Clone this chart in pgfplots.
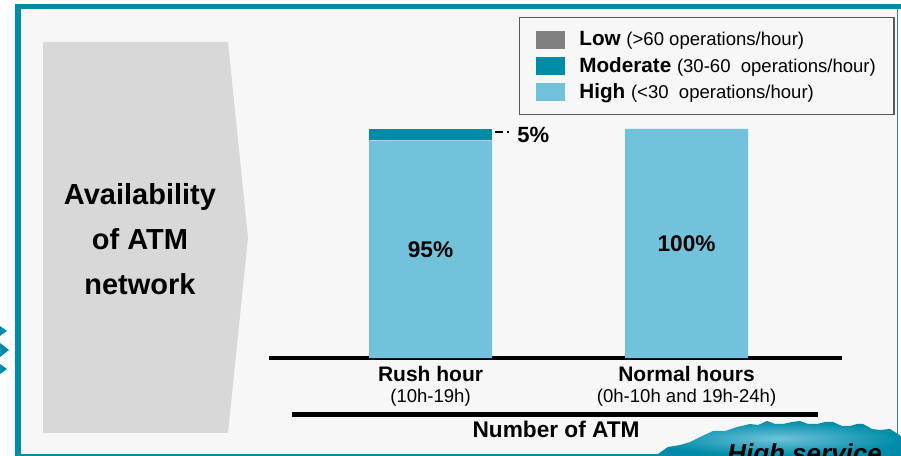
\documentclass[border=0pt]{standalone}
\usepackage{fontspec}
\setmainfont{Liberation Sans}
\usepackage{pgfplots}
\pgfplotsset{compat=1.18}
\definecolor{atmteal}{RGB}{0,140,168}
\definecolor{atmlight}{RGB}{114,194,219}
\definecolor{atmgray}{RGB}{128,128,128}
\definecolor{bgc}{RGB}{247,247,247}
\definecolor{chev}{RGB}{216,216,216}
\definecolor{burstin}{RGB}{110,195,218}
\begin{document}
\begin{tikzpicture}[x=0.75pt,y=0.75pt]
\useasboundingbox (0,0) rectangle (901,-456);
\begin{scope}
\clip (0,0) rectangle (901,-456);
\fill[white] (0,0) rectangle (901,-456);
\fill[bgc] (20,-9) rectangle (897,-454);
\fill[atmteal] (15,-4) rectangle (901,-9.5);
\fill[atmteal] (15,-4) rectangle (20.5,-456);
\draw[atmteal!60!gray, line width=1.1pt] (897.5,-9) -- (897.5,-456);
\draw[atmteal, line width=1.1pt] (15,-455) -- (898,-455);
% left arrows
\fill[atmteal] (0,-326) -- (7,-331) -- (0,-336) -- cycle;
\fill[atmteal] (0,-343) -- (9,-350) -- (0,-357) -- cycle;
\fill[atmteal] (0,-364) -- (7,-369) -- (0,-374) -- cycle;
% chevron
\fill[chev] (43,-42) -- (228,-42) -- (248,-238) -- (228,-433) -- (43,-433) -- cycle;
\node[align=center, font=\fontsize{21.75}{33.75}\selectfont\bfseries] at (140,-239) {Availability\\of ATM\\network};
% starburst
\shade[inner color=burstin, outer color=atmteal, shading=radial]
 (655,-456) -- (668,-447) -- (680,-445) -- (690,-442) -- (700,-437) -- (713,-431) -- (725,-431)
 -- (737,-427) -- (750,-424) -- (758,-425) -- (767,-421) -- (775,-424) -- (783,-424) -- (792,-422)
 -- (800,-421) -- (808,-424) -- (817,-424) -- (825,-422) -- (833,-422) -- (842,-426) -- (850,-426)
 -- (857,-424) -- (863,-424) -- (872,-429) -- (880,-430) -- (890,-429) -- (901,-436) -- (901,-456) -- cycle;
\node[anchor=base west, inner sep=0pt, font=\fontsize{19.5}{22}\selectfont\bfseries\itshape] at (727,-462) {High service};
\end{scope}
\draw[line width=3.6pt] (292,-414.5) -- (818,-414.5);
\begin{axis}[
  at={(201.75pt,-268.5pt)}, anchor=south west,
  scale only axis, width=429.75pt, height=171.75pt,
  xmin=-0.631, xmax=1.607, ymin=0, ymax=100,
  ybar stacked, bar width=92.25pt,
  axis x line*=bottom, axis y line=none,
  x axis line style={-, line width=3.4pt, black},
  xtick={0,1},
  xticklabels={{\fontsize{15.75}{15}\selectfont\bfseries Rush hour\\[3.5pt]\fontsize{13.9}{14}\selectfont(10h-19h)},
               {\fontsize{15.75}{15}\selectfont\bfseries Normal hours\\[3.5pt]\fontsize{13.9}{14}\selectfont(0h-10h and 19h-24h)}},
  major tick length=0pt,
  xticklabel style={align=center, anchor=north, inner sep=0pt, yshift=-6pt},
  xlabel={Number of ATM},
  xlabel style={at={(axis description cs:0.501,-0.349)}, anchor=base, inner sep=0pt, font=\fontsize{17}{20}\selectfont\bfseries},
  clip=false,
  sq legend/.style={legend image code/.code={\fill[##1] (0pt,-6.75pt) rectangle (21.75pt,6.75pt);}},
  reverse legend,
  legend cell align=left,
  legend style={at={(axis description cs:0.4363,1.489)}, anchor=north west,
    draw=black!65, line width=1.1pt, fill=bgc, inner xsep=12pt, inner ysep=9pt,
    row sep=4pt, column sep=9.5pt, nodes={inner sep=1.5pt}},
]
\addplot[fill=atmlight, draw=none, sq legend] coordinates {(0,95) (1,100)};
\addplot[fill=atmteal, draw=none, sq legend] coordinates {(0,5) (1,0)};
\addlegendimage{fill=atmgray, draw=none, sq legend}
\legend{{\fontsize{15.5}{16}\selectfont\bfseries High \fontsize{13.9}{16}\selectfont\mdseries(<30~ operations/hour)},
        {\fontsize{15.5}{16}\selectfont\bfseries Moderate \fontsize{13.9}{16}\selectfont\mdseries(30-60~ operations/hour)},
        {\fontsize{15.5}{16}\selectfont\bfseries Low \fontsize{13.9}{16}\selectfont\mdseries(>60 operations/hour)}}
\coordinate (l95) at (axis cs:0,47.5);
\coordinate (l100) at (axis cs:1,50);
\draw[line width=1.1pt, dash pattern=on 6pt off 3pt on 1.5pt off 3pt] (axis cs:0.252,98.7) -- (axis cs:0.322,98.7);
\node[anchor=west, inner sep=0pt, font=\fontsize{16.5}{18}\selectfont\bfseries] at (axis cs:0.338,97.3) {5\%};
\end{axis}
\node[font=\fontsize{17}{20}\selectfont\bfseries] at (l95) {95\%};
\node[font=\fontsize{17}{20}\selectfont\bfseries] at (l100) {100\%};
\end{tikzpicture}
\end{document}
